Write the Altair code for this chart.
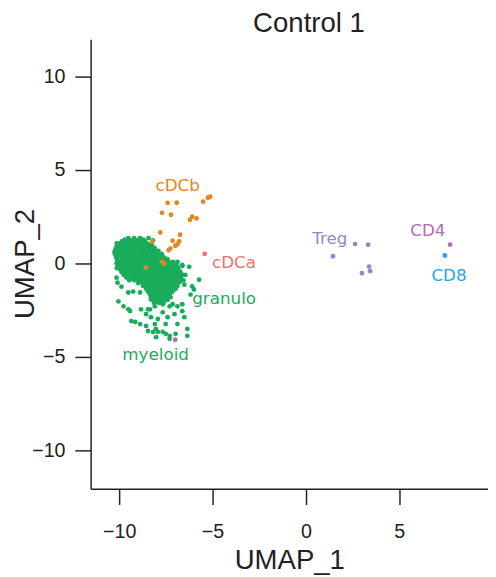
import altair as alt
import pandas as pd

# ---- green (granulo / myeloid) cluster: dense core rows (y, xs) ----
core_rows = [
    (1.35, [-9.51, -9.20, -8.88]),
    (1.20, [-9.83, -9.62, -9.35, -9.09, -8.83, -8.62]),
    (1.05, [-10.04, -9.77, -9.51, -9.25, -8.98, -8.72, -8.46]),
    (0.90, [-10.14, -9.88, -9.62, -9.35, -9.09, -8.83, -8.56, -8.30]),
    (0.75, [-10.19, -9.98, -9.72, -9.46, -9.19, -8.93, -8.67, -8.41, -8.14]),
    (0.60, [-10.25, -10.04, -9.77, -9.51, -9.25, -8.98, -8.72, -8.46, -8.19, -7.93]),
    (0.45, [-10.19, -9.93, -9.67, -9.41, -9.14, -8.88, -8.62, -8.35, -8.09, -7.83]),
    (0.30, [-10.14, -9.88, -9.62, -9.35, -9.09, -8.83, -8.56, -8.30, -8.04, -7.77, -7.56]),
    (0.15, [-10.09, -9.83, -9.56, -9.30, -9.04, -8.77, -8.51, -8.25, -7.98, -7.72, -7.46]),
    (0.00, [-10.14, -9.88, -9.62, -9.35, -9.09, -8.83, -8.56, -8.30, -8.04, -7.77, -7.51, -7.25]),
    (-0.15, [-10.04, -9.77, -9.51, -9.25, -8.98, -8.72, -8.46, -8.19, -7.93, -7.67, -7.41, -7.14, -6.88]),
    (-0.30, [-9.98, -9.72, -9.46, -9.19, -8.93, -8.67, -8.41, -8.14, -7.88, -7.62, -7.35, -7.09, -6.83]),
    (-0.45, [-9.88, -9.62, -9.35, -9.09, -8.83, -8.56, -8.30, -8.04, -7.77, -7.51, -7.25, -6.98, -6.72]),
    (-0.60, [-9.77, -9.51, -9.25, -8.98, -8.72, -8.46, -8.19, -7.93, -7.67, -7.41, -7.14, -6.88, -6.62]),
    (-0.75, [-9.62, -9.35, -9.09, -8.83, -8.56, -8.30, -8.04, -7.77, -7.51, -7.25, -6.98, -6.72]),
    (-0.90, [-9.46, -9.19, -8.93, -8.67, -8.41, -8.14, -7.88, -7.62, -7.35, -7.09, -6.83, -6.56]),
    (-1.05, [-8.98, -8.72, -8.46, -8.19, -7.93, -7.67, -7.41, -7.14, -6.88]),
    (-1.20, [-8.72, -8.46, -8.19, -7.93, -7.67, -7.41, -7.14, -6.88]),
    (-1.35, [-8.56, -8.30, -8.04, -7.77, -7.51, -7.25, -6.98]),
    (-1.50, [-8.46, -8.19, -7.93, -7.67, -7.41, -7.14]),
    (-1.65, [-8.35, -8.09, -7.83, -7.56, -7.30]),
    (-1.80, [-8.30, -8.04, -7.77, -7.51, -7.25]),
    (-1.95, [-8.19, -7.93, -7.67, -7.41]),
    (-2.10, [-8.14, -7.88, -7.62]),
]
core_rows_b = [
    (1.28, [-9.70, -9.48, -9.22, -8.96, -8.70]),
    (1.12, [-9.90, -9.64, -9.38, -9.12, -8.86, -8.59]),
    (0.98, [-10.09, -9.83, -9.57, -9.30, -9.04, -8.78, -8.51, -8.25]),
    (0.82, [-10.17, -9.93, -9.67, -9.41, -9.14, -8.88, -8.62, -8.36, -8.10]),
    (0.68, [-10.22, -9.98, -9.72, -9.46, -9.20, -8.93, -8.67, -8.41, -8.14, -7.90]),
    (0.52, [-10.22, -10.06, -9.80, -9.54, -9.28, -9.01, -8.75, -8.49, -8.22, -7.96, -7.72]),
    (0.38, [-10.16, -9.80, -9.54, -9.28, -9.01, -8.75, -8.49, -8.22, -7.96, -7.70]),
    (0.22, [-10.10, -9.75, -9.49, -9.22, -8.96, -8.70, -8.43, -8.17, -7.91, -7.64, -7.40]),
    (0.08, [-10.00, -9.75, -9.49, -9.22, -8.96, -8.70, -8.43, -8.17, -7.91, -7.64, -7.38, -7.12]),
    (-0.08, [-9.90, -9.64, -9.38, -9.12, -8.86, -8.59, -8.33, -8.06, -7.80, -7.54, -7.28, -7.01]),
    (-0.22, [-9.85, -9.59, -9.33, -9.06, -8.80, -8.54, -8.28, -8.01, -7.75, -7.49, -7.22, -6.96]),
    (-0.38, [-9.75, -9.49, -9.22, -8.96, -8.70, -8.43, -8.17, -7.91, -7.64, -7.38, -7.12, -6.85]),
    (-0.52, [-9.64, -9.38, -9.12, -8.86, -8.59, -8.33, -8.06, -7.80, -7.54, -7.28, -7.01, -6.75]),
    (-0.68, [-9.49, -9.22, -8.96, -8.70, -8.43, -8.17, -7.91, -7.64, -7.38, -7.12, -6.85]),
    (-0.82, [-9.30, -9.04, -8.80, -8.54, -8.28, -8.01, -7.75, -7.49, -7.22, -6.96, -6.70]),
    (-0.98, [-8.85, -8.59, -8.33, -8.06, -7.80, -7.54, -7.28, -7.01, -6.75]),
    (-1.12, [-8.59, -8.33, -8.06, -7.80, -7.54, -7.28, -7.01]),
    (-1.28, [-8.43, -8.17, -7.91, -7.64, -7.38, -7.12]),
    (-1.42, [-8.33, -8.06, -7.80, -7.54, -7.28]),
    (-1.58, [-8.22, -7.96, -7.70, -7.43]),
    (-1.72, [-8.17, -7.91, -7.64, -7.38]),
    (-1.88, [-8.06, -7.80, -7.54]),
    (-2.02, [-8.01, -7.75]),
]

# ---- green scattered points ----
green_x = [-8.43, -8.19, -8.67, -8.42, -7.84, -7.67, -6.62, -6.88, -6.62,
           -10.13, -10.13, -10.13, -10.09, -10.14, -9.88, -9.51, -9.25, -8.88,
           -6.46, -5.72, -6.51, -6.25, -7.67, -7.30, -6.62,
           -10.04, -9.77, -9.51, -8.83, -9.35, -9.14, -8.88,
           -8.35, -8.56, -8.30, -7.93, -8.09, -8.56, -8.46, -8.04, -7.93, -7.67,
           -7.51, -7.30, -6.98, -7.30, -6.35, -6.62, -6.51, -6.88, -7.51, -7.41,
           -7.04, -7.67, -8.09, -7.67, -7.14, -6.88, -8.30, -7.93, -6.35,
           -6.00, -6.18, -6.09, -9.42, -8.46, -8.19, -8.02]
green_y = [1.36, 1.24, 1.12, 0.92, 0.48, 0.36, -0.08, 0.08, -0.13,
           1.08, 0.29, -0.24, -1.03, -0.76, -1.24, -1.55, -1.50, -1.55,
           -0.61, -0.87, -1.13, -0.18, -2.08, -2.29, -2.18,
           -2.03, -2.29, -2.45, -2.45, -3.08, -3.13, -3.24,
           -2.45, -2.71, -2.87, -2.97, -3.24, -3.34, -3.61, -3.50, -3.66, -3.66,
           -3.76, -3.87, -3.76, -4.03, -3.87, -2.55, -2.87, -3.24, -3.24, -2.87,
           -2.71, -2.61, -2.29, -2.18, -2.18, -2.29, -1.92, -2.03, -3.50,
           -1.39, -1.66, -1.22, -2.54, -2.45, -3.67, -3.94]

# ---- other clusters ----
cdcb_x = [-7.41, -6.92, -7.71, -7.23, -5.51, -5.25, -5.13, -6.09, -6.21, -5.86,
          -7.80, -6.74, -8.23, -7.14, -6.79, -6.88, -7.00, -7.26, -7.35, -8.56,
          -7.71, -7.59]
cdcb_y = [3.24, 3.25, 2.71, 2.61, 3.31, 3.52, 3.57, 2.50, 2.34, 2.41,
          1.66, 1.54, 1.21, 1.22, 1.18, 1.02, 0.95, 0.80, 0.71, -0.21,
          0.09, 0.00]
cdca_x = [-5.42]
cdca_y = [0.52]
treg_x = [1.45, 2.63, 3.33, 3.38, 3.44, 3.00]
treg_y = [0.39, 1.04, 1.01, -0.17, -0.41, -0.52]
cd4_x = [7.72, -7.00]
cd4_y = [1.01, -4.08]
cd8_x = [7.44]
cd8_y = [0.43]

clusters = ["granulo", "cDCb", "cDCa", "Treg", "CD4", "CD8"]
colors = ["#19AD5B", "#E2871E", "#F0736B", "#8A8CCB", "#B26CB7", "#2DA2DF"]

# ---- cluster labels ----
label_text = ["cDCb", "cDCa", "granulo", "myeloid", "Treg", "CD4", "CD8"]
label_x = [-6.87, -3.85, -4.38, -8.05, 1.28, 6.53, 7.66]
label_y = [4.13, 0.04, -1.92, -4.92, 1.29, 1.71, -0.69]
label_cluster = ["cDCb", "cDCa", "granulo", "granulo", "Treg", "CD4", "CD8"]

rows = []
for yy, xs_ in core_rows + core_rows_b:
    for xx in xs_:
        rows.append((xx, yy, "granulo"))
for xx, yy in zip(green_x, green_y):
    rows.append((xx, yy, "granulo"))
for name, xs_, ys_ in [("cDCb", cdcb_x, cdcb_y), ("cDCa", cdca_x, cdca_y),
                       ("Treg", treg_x, treg_y), ("CD4", cd4_x, cd4_y),
                       ("CD8", cd8_x, cd8_y)]:
    for xx, yy in zip(xs_, ys_):
        rows.append((xx, yy, name))
pts = pd.DataFrame(rows, columns=["UMAP_1", "UMAP_2", "cluster"])
pts["order"] = range(len(pts))

labels = pd.DataFrame({"UMAP_1": label_x, "UMAP_2": label_y,
                       "text": label_text, "cluster": label_cluster})

color_scale = alt.Scale(domain=clusters, range=colors)
xs = alt.Scale(domain=[-11.53, 9.75], nice=False, zero=False)
ys = alt.Scale(domain=[-12.05, 12.0], nice=False, zero=False)

axis_common = dict(grid=False, domainColor="#222222", domainWidth=1.5,
                   tickColor="#222222", tickWidth=1.5, tickSize=16,
                   labelFont="Liberation Sans", labelFontSize=20,
                   labelColor="#222222", titleFont="Liberation Sans",
                   titleFontSize=28, titleFontWeight="normal",
                   titleColor="#222222", values=[-10, -5, 0, 5, 10])

points = alt.Chart(pts).mark_circle(size=24, opacity=1).encode(
    x=alt.X("UMAP_1:Q", scale=xs,
            axis=alt.Axis(labelPadding=18, titlePadding=5, **axis_common)),
    y=alt.Y("UMAP_2:Q", scale=ys,
            axis=alt.Axis(labelPadding=10, titleX=-52, titleY=228,
                          **axis_common)),
    color=alt.Color("cluster:N", scale=color_scale, legend=None),
    order=alt.Order("order:Q"),
)

texts = alt.Chart(labels).mark_text(font="DejaVu Sans", fontSize=17,
                                    baseline="middle", align="center").encode(
    x=alt.X("UMAP_1:Q", scale=xs),
    y=alt.Y("UMAP_2:Q", scale=ys),
    text="text:N",
    color=alt.Color("cluster:N", scale=color_scale, legend=None),
)

chart = alt.layer(points, texts).properties(
    width=404, height=457,
    title=alt.TitleParams("Control 1", font="Liberation Sans", fontSize=28,
                          fontWeight="normal", color="#222222",
                          anchor="middle", dx=20, offset=1),
    autosize=alt.AutoSizeParams(type="none"),
    padding={"left": 84, "top": 27, "right": 0, "bottom": 85},
).configure_view(stroke=None)

chart.save("out.html", embed_options={"renderer": "svg", "actions": False})
